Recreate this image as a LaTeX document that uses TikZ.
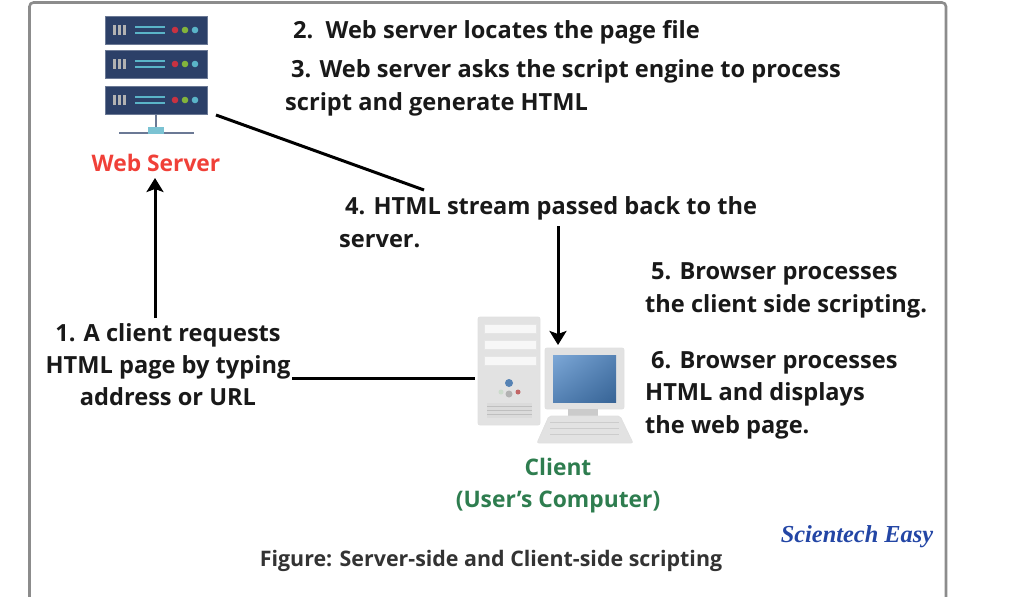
\documentclass[tikz,border=0pt]{standalone}
\usepackage{fontspec}
\setmainfont{Open Sans}
\newfontfamily\wmfont{Liberation Serif}
\usepackage{xcolor}
\definecolor{srvnavy}{RGB}{44,64,104}
\definecolor{srvteal}{RGB}{90,180,200}
\definecolor{srvred}{RGB}{240,64,56}
\definecolor{srvdotred}{RGB}{200,50,65}
\definecolor{srvdotgreen}{RGB}{130,180,60}
\definecolor{cligreen}{RGB}{46,125,79}
\definecolor{wmblue}{RGB}{35,70,165}
\definecolor{framegray}{RGB}{140,140,140}
\definecolor{pcgray}{RGB}{226,226,226}
\definecolor{scrlight}{RGB}{125,168,215}
\definecolor{scrmid}{RGB}{85,130,180}
\definecolor{scrdark}{RGB}{55,100,150}
\usetikzlibrary{arrows.meta, positioning, shadings}

\begin{document}
\begin{tikzpicture}[x=1pt, y=-1pt,
  steptext/.style={inner sep=0pt, anchor=base west, align=left, font=\fontsize{23.6}{32.5}\selectfont\bfseries, text=black!90},
  iconlabel/.style={inner sep=0pt, anchor=base, align=center, font=\fontsize{22.8}{32}\selectfont\bfseries},
  srvunit/.style={draw=srvnavy!70, fill=srvnavy, minimum width=102pt, minimum height=28pt, inner sep=0pt, line width=.5pt},
  pcpart/.style={fill=pcgray, draw=black!12, line width=.8pt, rounded corners=2pt},
  pcslot/.style={fill=black!3, draw=black!10, line width=.4pt},
  conn/.style={line width=3pt, black},
  arr/.style={conn, -{Stealth[length=14pt, width=17pt, inset=3pt]}}
]
\useasboundingbox (0,0) rectangle (1023,597);
\draw[framegray, line width=2.6pt, rounded corners=4pt] (29.5,597) -- (29.5,2.5) -- (946,2.5) -- (946,597);

% server icon
\foreach \n/\y in {1/30, 2/64, 3/100}{
  \node[srvunit] (srv\n) at (156,\y) {};
  \foreach \bx in {114.5,119.5,124.5} \fill[black!30] (\bx-1.5,\y-5) rectangle (\bx+1.5,\y+5);
  \draw[srvteal, line width=1.3pt] (135,\y-3) -- (165,\y-3) (135,\y+3) -- (165,\y+3);
  \fill[srvdotred] (175,\y) circle (3.3pt);
  \fill[srvdotgreen] (185,\y) circle (3.3pt);
  \fill[srvteal] (195,\y) circle (3.3pt);
}
\draw[srvnavy!70, line width=2pt] (srv3.south) -- (156,133);
\draw[srvnavy!70, line width=2pt] (119,133) -- (194,133);
\fill[srvteal!80!white] (148,127) rectangle (164,134);
\node[iconlabel, text=srvred] (websrv) at (156,171) {Web Server};

% client icon
\node[pcpart, minimum width=62pt, minimum height=108pt, inner sep=0pt] (tower) at (509,371) {};
\foreach \y in {328.5,344.5,360.5}
  \node[pcslot, minimum width=52pt, minimum height=9pt, inner sep=0pt] at (510,\y) {};
\fill[black!14] (487,403) rectangle (532,418);
\foreach \y in {406,410,414} \draw[black!25, line width=.6pt] (487,\y) -- (532,\y);
\fill[scrmid] (509,383) circle (4pt);
\fill[green!30!black!20!white] (501,392) circle (2.5pt);
\fill[black!30] (509,394) circle (3.5pt);
\fill[red!60!black!60!white] (518,392) circle (2.5pt);
\node[pcpart, minimum width=79pt, minimum height=61pt, inner sep=0pt] (monitor) at (584.5,378.5) {};
\shade[upper left=scrlight, upper right=scrmid, lower left=scrmid, lower right=scrdark] (553,355) rectangle (616,402);
\fill[pcgray!90!black] (568,409) rectangle (598,416);
\fill[pcgray, draw=black!12, line width=.8pt, rounded corners=2pt] (549,416) -- (620,416) -- (633,443) -- (537,443) -- cycle;
\foreach \y in {422,428,434} \draw[black!20, line width=.6pt] (550,\y) -- (619,\y);
\node[iconlabel, text=cligreen] (client) at (558,475) {Client};
\node[iconlabel, text=cligreen] (clientsub) at (558,507) {(User's Computer)};

% steps (base anchor sits on the last line)
\node[steptext] (s2) at (293,38) {2.\ \ Web server locates the page file};
\node[steptext] (s3) at (285,110) {\hspace*{6pt}3. Web server asks the script engine to process\\script and generate HTML};
\node[steptext] (s4) at (339,247) {\hspace*{6pt}4. HTML stream passed back to the\\server.};
\node[steptext] (s5) at (645,312) {\hspace*{6pt}5. Browser processes\\the client side scripting.};
\node[steptext] (s6) at (645,433) {\hspace*{6pt}6. Browser processes\\HTML and displays\\the web page.};
\node[inner sep=0pt, align=center, anchor=base, font=\fontsize{23.6}{32}\selectfont\bfseries, text=black!90] (s1) at (168,405) {1. A client requests\\HTML page by typing\\address or URL};

\node[inner sep=0pt, anchor=base, font=\fontsize{21.4}{24}\selectfont\bfseries, text=black!80] (caption) at (491,566) {Figure: Server-side and Client-side scripting};
\node[inner sep=0pt, anchor=base, font=\wmfont\fontsize{24.4}{26}\selectfont\bfseries\itshape, text=wmblue] (mark) at (857,542) {Scientech Easy};

% connectors
\coordinate (srvout) at (216,115);
\coordinate (s4top) at (424,190);
\coordinate (s4out) at (558,226);
\coordinate (pcin) at (558,345);
\coordinate (s1top) at (155,318);
\coordinate (s1out) at (292,378);
\coordinate (pcout) at (475,378);
\draw[conn] (srvout) -- (s4top);
\draw[arr] (s4out) -- (pcin);
\draw[arr, shorten >=7pt] (s1top) -- (s1top |- websrv.base);
\draw[conn] (s1out) -- (pcout);
\end{tikzpicture}
\end{document}
